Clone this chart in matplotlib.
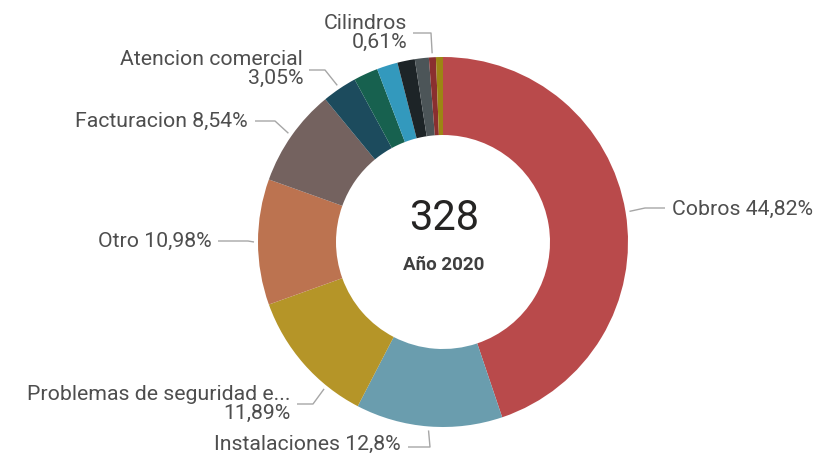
import numpy as np
import matplotlib.pyplot as plt

plt.rcParams['font.family'] = ['Roboto', 'DejaVu Sans']

# Reclamos por tipo, año 2020
categorias = ["Cobros", "Instalaciones", "Problemas de seguridad e...", "Otro",
              "Facturacion", "Atencion comercial", None, None, None, None,
              "Cilindros", None]
valores = [147, 42, 39, 36, 28, 10, 7, 6, 5, 4, 2, 2]
colores = ["#B94A4B", "#6A9DAE", "#B59528", "#BC7350", "#74625F", "#1C4B5D",
           "#17614F", "#3399BD", "#1D2427", "#4C5558", "#8A2F2F", "#9C8613"]
anio = "Año 2020"

W, H = 838, 459
cx, cy, R, ancho = 443, 242, 185, 78

# posicion del texto (x, y, alineacion), codo y fin de la guia, fraccion del sector
guias = {
    "Cobros": (672, 209, "left", (645, 208), (665, 208), 0.5),
    "Instalaciones": (401, 444, "right", (430, 447), (408, 447), 0.5),
    "Problemas de seguridad e...": (290, 404, "right", (313, 404), (297, 404), 0.27),
    "Otro": (212, 241, "right", (248, 241), (218, 241), 0.5),
    "Facturacion": (248, 121, "right", (275, 121), (255, 121), 0.5),
    "Atencion comercial": (303, 69, "right", (325, 70), (309, 70), 0.5),
    "Cilindros": (407, 33, "right", (431, 33), (413, 33), 0.5),
}
dos_lineas = {"Problemas de seguridad e...", "Atencion comercial", "Cilindros"}


def porcentaje(v, total):
    s = f"{100 * v / total:.2f}".rstrip("0").rstrip(".")
    return s.replace(".", ",") + "%"


fig = plt.figure(figsize=(W / 100, H / 100), dpi=100)
ax = fig.add_axes([0, 0, 1, 1])

# eje y invertido: en pantalla el sentido antihorario de los datos es horario
wedges, _ = ax.pie(valores, colors=colores, startangle=-90, counterclock=True,
                   radius=R, center=(cx, cy),
                   wedgeprops=dict(width=ancho, linewidth=0))
ax.set_xlim(0, W)
ax.set_ylim(H, 0)
ax.set_aspect("equal")
ax.axis("off")

total = sum(valores)
for cat, v, w in zip(categorias, valores, wedges):
    if cat not in guias:
        continue
    tx, ty, ha, codo, fin, frac = guias[cat]
    ang = np.deg2rad(w.theta1 + frac * (w.theta2 - w.theta1))
    ax0 = cx + (R + 4) * np.cos(ang)
    ay0 = cy + (R + 4) * np.sin(ang)
    ax.plot([ax0, codo[0], fin[0]], [ay0, codo[1], fin[1]],
            color="#A6A6A6", lw=1, solid_capstyle="butt")
    sep = "\n" if cat in dos_lineas else " "
    ax.text(tx, ty, cat + sep + porcentaje(v, total), ha=ha, va="center",
            multialignment=ha, fontsize=15.3, color="#4E4E4E", linespacing=1.0)

ax.text(cx + 1, 219, str(total), ha="center", va="center", fontsize=30,
        color="#252423")
ax.text(cx + 1, 265, anio, ha="center", va="center", fontsize=13.5,
        fontweight="bold", color="#3F3F3F")

fig.savefig("out.png", dpi=100)
